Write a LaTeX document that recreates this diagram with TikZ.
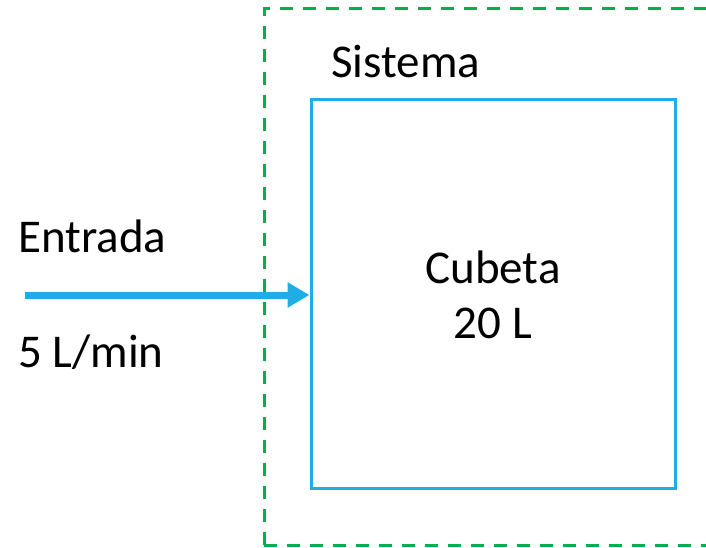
\documentclass[tikz,border=0pt]{standalone}
\usepackage{fontspec}
\setmainfont{Carlito}
\usetikzlibrary{arrows.meta}
\definecolor{flowblue}{RGB}{32,172,228}
\definecolor{sysgreen}{RGB}{0,176,80}
\begin{document}
\begin{tikzpicture}[x=1pt,y=-1pt,
  label/.style={inner sep=0pt,font=\fontsize{47}{55}\selectfont},
  tank/.style={draw=flowblue,line width=3pt},
  boundary/.style={draw=sysgreen,line width=3pt,dash pattern=on 13pt off 10pt}]
\useasboundingbox (0,0) rectangle (706,548);
\begin{scope}
\clip (0,0) rectangle (706,548);
% system boundary, running past the right edge
\draw[boundary] (264,545) -- (264,9) -- (760,9);
\draw[boundary] (264,545) -- (760,545);
\end{scope}
% tank
\node[tank,minimum width=364pt,minimum height=388pt,inner sep=0pt] (tank) at (493,294) {};
\node[label,anchor=base] (tanklbl) at (493,283) {Cubeta};
\node[label,anchor=base] (vol) at (493,338) {20 L};
\node[label,anchor=base west] (sys) at (331,78) {Sistema};
\node[label,anchor=base west] (inlbl) at (18,252) {Entrada};
\node[label,anchor=base west] (rate) at (18,367) {5 L/min};
\coordinate (src) at (25,295);
\draw[flowblue,line width=7pt,-{Triangle[length=22pt,width=24pt]}] (src) -- (src -| tank.west);
\end{tikzpicture}
\end{document}
